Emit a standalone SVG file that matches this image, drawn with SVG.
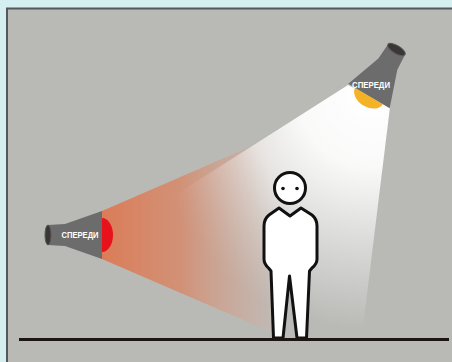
<svg xmlns="http://www.w3.org/2000/svg" width="452" height="362" viewBox="0 0 452 362">
  <style>
    .lamp-body { fill: #6c6c6c; }
    .lamp-cap { fill: #3a3636; stroke: #5a5858; stroke-width: 1; }
    .label { font-family: "Liberation Sans", Arial, sans-serif; font-weight: bold; font-size: 8.5px; fill: #ffffff; text-anchor: middle; }
    .person { fill: #ffffff; stroke: #111111; stroke-width: 3; stroke-linejoin: round; }
  </style>
  <defs>
    <linearGradient id="warmBeam" gradientUnits="userSpaceOnUse" x1="102" y1="0" x2="300" y2="0">
      <stop offset="0" stop-color="#dc7a55" stop-opacity="0.97"/>
      <stop offset="0.4" stop-color="#d68a6c" stop-opacity="0.85"/>
      <stop offset="0.75" stop-color="#d0a898" stop-opacity="0.5"/>
      <stop offset="1" stop-color="#d0c4c0" stop-opacity="0"/>
    </linearGradient>
    <radialGradient id="coolBeam" gradientUnits="userSpaceOnUse" cx="369" cy="96" r="235">
      <stop offset="0" stop-color="#ffffff" stop-opacity="1"/>
      <stop offset="0.3" stop-color="#ffffff" stop-opacity="0.92"/>
      <stop offset="0.65" stop-color="#ffffff" stop-opacity="0.45"/>
      <stop offset="1" stop-color="#ffffff" stop-opacity="0"/>
    </radialGradient>
    <!-- soft lower-left fall-off of the overhead beam -->
    <linearGradient id="coolFade" gradientUnits="userSpaceOnUse" x1="195" y1="279" x2="295" y2="237">
      <stop offset="0" stop-color="#000000"/>
      <stop offset="1" stop-color="#ffffff"/>
    </linearGradient>
    <mask id="coolMask" maskUnits="userSpaceOnUse" x="0" y="0" width="452" height="362">
      <rect x="0" y="0" width="452" height="362" fill="url(#coolFade)"/>
    </mask>
    <!-- spotlight housing, drawn pointing along +x with the rim centre at the origin -->
    <path id="lampShape" d="M -54,-10 L -37,-11 L 0,-24 L 0,24 L -37,11 L -54,10 Z"/>
  </defs>

  <!-- page background and panel -->
  <rect x="0" y="0" width="452" height="362" fill="#d5eef0"/>
  <rect x="7" y="8.5" width="460" height="370" fill="#b9bab6" stroke="#54575b" stroke-width="2"/>

  <!-- light beams -->
  <g id="beams">
    <polygon points="102,211 300,125 292,341 102,259" fill="url(#warmBeam)"/>
    <polygon points="348,85 390,107 362,335 200,335 150,211" fill="url(#coolBeam)" mask="url(#coolMask)"/>
  </g>

  <!-- side spotlight -->
  <g id="lamp-left" transform="translate(102,235)">
    <path d="M 0,-17 A 11,17 0 0 1 0,17 Z" fill="#e8121c"/>
    <use href="#lampShape" class="lamp-body"/>
    <ellipse cx="-54" cy="0" rx="3" ry="10" class="lamp-cap"/>
  </g>
  <text class="label" x="80" y="237.5" textLength="37" lengthAdjust="spacingAndGlyphs">СПЕРЕДИ</text>

  <!-- overhead spotlight -->
  <g id="lamp-top" transform="translate(369,96) rotate(120.6)">
    <path d="M 0,-16 A 11,16 0 0 1 0,16 Z" fill="#f4b227"/>
    <use href="#lampShape" class="lamp-body"/>
    <ellipse cx="-54" cy="0" rx="4" ry="10" class="lamp-cap"/>
  </g>
  <text class="label" x="371" y="87.5" textLength="38" lengthAdjust="spacingAndGlyphs">СПЕРЕДИ</text>

  <!-- figure -->
  <g id="person">
    <path class="person" d="M 279,208 L 290,216 L 301,208 L 312,215 Q 317,219 317,226 L 317,259 Q 317,264 312,268 L 309.5,271 L 306.5,338 L 297,338 L 289.5,276 L 283,338 L 273.5,338 L 271,271 L 268.5,268 Q 264,264 264,259 L 264,226 Q 264,219 269,215 Z"/>
    <circle class="person" cx="290" cy="188" r="15.5"/>
    <circle cx="283" cy="188.5" r="1.8" fill="#111111"/>
    <circle cx="297" cy="188.5" r="1.8" fill="#111111"/>
  </g>

  <!-- floor -->
  <line id="floor" x1="19" y1="339.5" x2="449" y2="339.5" stroke="#1c1512" stroke-width="3"/>
</svg>
